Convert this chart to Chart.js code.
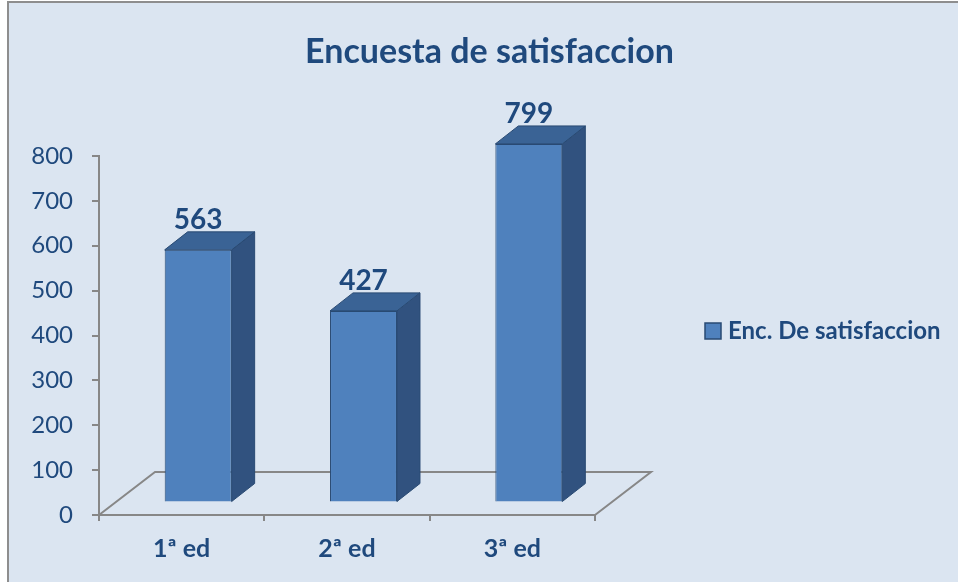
<!DOCTYPE html>
<html>
<head>
<meta charset="utf-8">
<title>Encuesta de satisfaccion</title>
<script src="https://cdn.jsdelivr.net/npm/chart.js@4"></script>
<style>
    body { margin: 0; background: #ffffff; }
    canvas { display: block; }
</style>
</head>
<body>
<canvas id="encuesta" width="958" height="582"></canvas>
<script>
// Datos del grafico
const ediciones = ['1ª ed', '2ª ed', '3ª ed'];
const respuestas = [563, 427, 799];
const ticksY = [0, 100, 200, 300, 400, 500, 600, 700, 800];
const titulo = 'Encuesta de satisfaccion';
const serie = 'Enc. De satisfaccion';

const FUENTE = 'Lato, "Noto Sans", sans-serif';
const AZUL_TEXTO = '#1F497D';
const GRIS_EJE = '#878787';

// Profundidad del piso y de las barras (efecto 3D)
const PISO = { x: 56, y: 43 };
const BARRA = { x: 23, y: 18 };

document.addEventListener('DOMContentLoaded', function() {
    graficarEncuesta();
});

// Fondo y borde del area del grafico
const fondo = {
    id: 'fondo',
    beforeDraw(chart) {
        const ctx = chart.ctx;
        ctx.save();
        ctx.fillStyle = '#ffffff';
        ctx.fillRect(0, 0, chart.width, chart.height);
        ctx.fillStyle = '#DBE5F1';
        ctx.fillRect(7, 1, chart.width - 7, chart.height - 1);
        ctx.strokeStyle = '#8E8E8E';
        ctx.lineWidth = 2;
        ctx.beginPath();
        ctx.moveTo(8, chart.height);
        ctx.lineTo(8, 2);
        ctx.lineTo(chart.width, 2);
        ctx.stroke();
        ctx.restore();
    }
};

// Piso en perspectiva, caras laterales y etiquetas de las barras
const barras3d = {
    id: 'barras3d',
    beforeDatasetsDraw(chart) {
        const { ctx, scales: { x, y } } = chart;
        const y0 = y.getPixelForValue(0);

        ctx.save();
        ctx.strokeStyle = GRIS_EJE;
        ctx.lineWidth = 2;
        ctx.beginPath();
        ctx.moveTo(x.left, y0);
        ctx.lineTo(x.left + PISO.x, y0 - PISO.y);
        ctx.lineTo(x.right + PISO.x, y0 - PISO.y);
        ctx.lineTo(x.right, y0);
        ctx.stroke();
        ctx.restore();

        //Las barras quedan en el medio del piso
        ctx.save();
        ctx.translate((PISO.x - BARRA.x) / 2, -(PISO.y - BARRA.y) / 2);
    },
    afterDatasetsDraw(chart) {
        const ctx = chart.ctx;
        const meta = chart.getDatasetMeta(0);
        const valores = chart.data.datasets[0].data;

        meta.data.forEach((bar, i) => {
            const { x, y, base, width } = bar.getProps(['x', 'y', 'base', 'width'], true);
            const der = x + width / 2;
            const izq = x - width / 2;

            ctx.lineWidth = 1;
            ctx.strokeStyle = '#294A73';

            //Cara derecha
            ctx.fillStyle = '#31527F';
            ctx.beginPath();
            ctx.moveTo(der, y);
            ctx.lineTo(der + BARRA.x, y - BARRA.y);
            ctx.lineTo(der + BARRA.x, base - BARRA.y);
            ctx.lineTo(der, base);
            ctx.closePath();
            ctx.fill();
            ctx.stroke();

            //Cara superior
            ctx.fillStyle = '#3A6395';
            ctx.beginPath();
            ctx.moveTo(izq, y);
            ctx.lineTo(izq + BARRA.x, y - BARRA.y);
            ctx.lineTo(der + BARRA.x, y - BARRA.y);
            ctx.lineTo(der, y);
            ctx.closePath();
            ctx.fill();
            ctx.stroke();

            //Etiqueta del valor
            ctx.fillStyle = AZUL_TEXTO;
            ctx.font = 'bold 28px ' + FUENTE;
            ctx.textAlign = 'center';
            ctx.textBaseline = 'alphabetic';
            ctx.fillText(valores[i], x, y - BARRA.y - 3);
        });

        ctx.restore();
    },
    afterDraw(chart) {
        const ctx = chart.ctx;
        ctx.save();

        //Titulo
        ctx.fillStyle = AZUL_TEXTO;
        ctx.font = 'bold 34px ' + FUENTE;
        ctx.textAlign = 'center';
        ctx.textBaseline = 'alphabetic';
        ctx.fillText(titulo, 489.5, 63);

        //Leyenda
        ctx.fillStyle = '#4F81BD';
        ctx.fillRect(705, 323, 16, 16);
        ctx.strokeStyle = '#294A73';
        ctx.lineWidth = 1.5;
        ctx.strokeRect(705, 323, 16, 16);
        ctx.fillStyle = AZUL_TEXTO;
        ctx.font = 'bold 24px ' + FUENTE;
        ctx.textAlign = 'left';
        ctx.fillText(serie, 728, 339);

        ctx.restore();
    }
};

function graficarEncuesta() {
    const ctx = document.getElementById('encuesta').getContext('2d');
    let myChart = new Chart(ctx, {
        type: 'bar',
        data: {
            labels: ediciones,
            datasets: [{
                label: serie,
                data: respuestas,
                backgroundColor: '#4F81BD',
                borderColor: '#294A73',
                borderWidth: 1,
                barPercentage: 0.405,
                categoryPercentage: 1,
                clip: false
            }]
        },
        options: {
            responsive: false,
            animation: false,
            layout: {
                padding: { left: 20, top: 156, right: 363, bottom: 0 }
            },
            plugins: {
                legend: { display: false },
                title: { display: false },
                tooltip: { enabled: false }
            },
            scales: {
                x: {
                    offset: true,
                    afterFit(scale) { scale.height = 67; },
                    grid: {
                        offset: true,
                        drawOnChartArea: false,
                        tickLength: 6,
                        color: GRIS_EJE,
                        lineWidth: 2
                    },
                    border: { color: GRIS_EJE, width: 2 },
                    ticks: {
                        color: AZUL_TEXTO,
                        padding: 13,
                        font: { family: FUENTE, size: 25, weight: 'bold' }
                    }
                },
                y: {
                    min: 0,
                    max: 800,
                    afterFit(scale) { scale.width = 79; },
                    afterBuildTicks(scale) {
                        scale.ticks = ticksY.map(v => ({ value: v }));
                    },
                    grid: {
                        drawOnChartArea: false,
                        tickLength: 7,
                        color: GRIS_EJE,
                        lineWidth: 2
                    },
                    border: { color: GRIS_EJE, width: 2 },
                    ticks: {
                        color: AZUL_TEXTO,
                        padding: 19,
                        font: { family: FUENTE, size: 24 }
                    }
                }
            }
        },
        plugins: [fondo, barras3d]
    });
}
</script>
</body>
</html>
